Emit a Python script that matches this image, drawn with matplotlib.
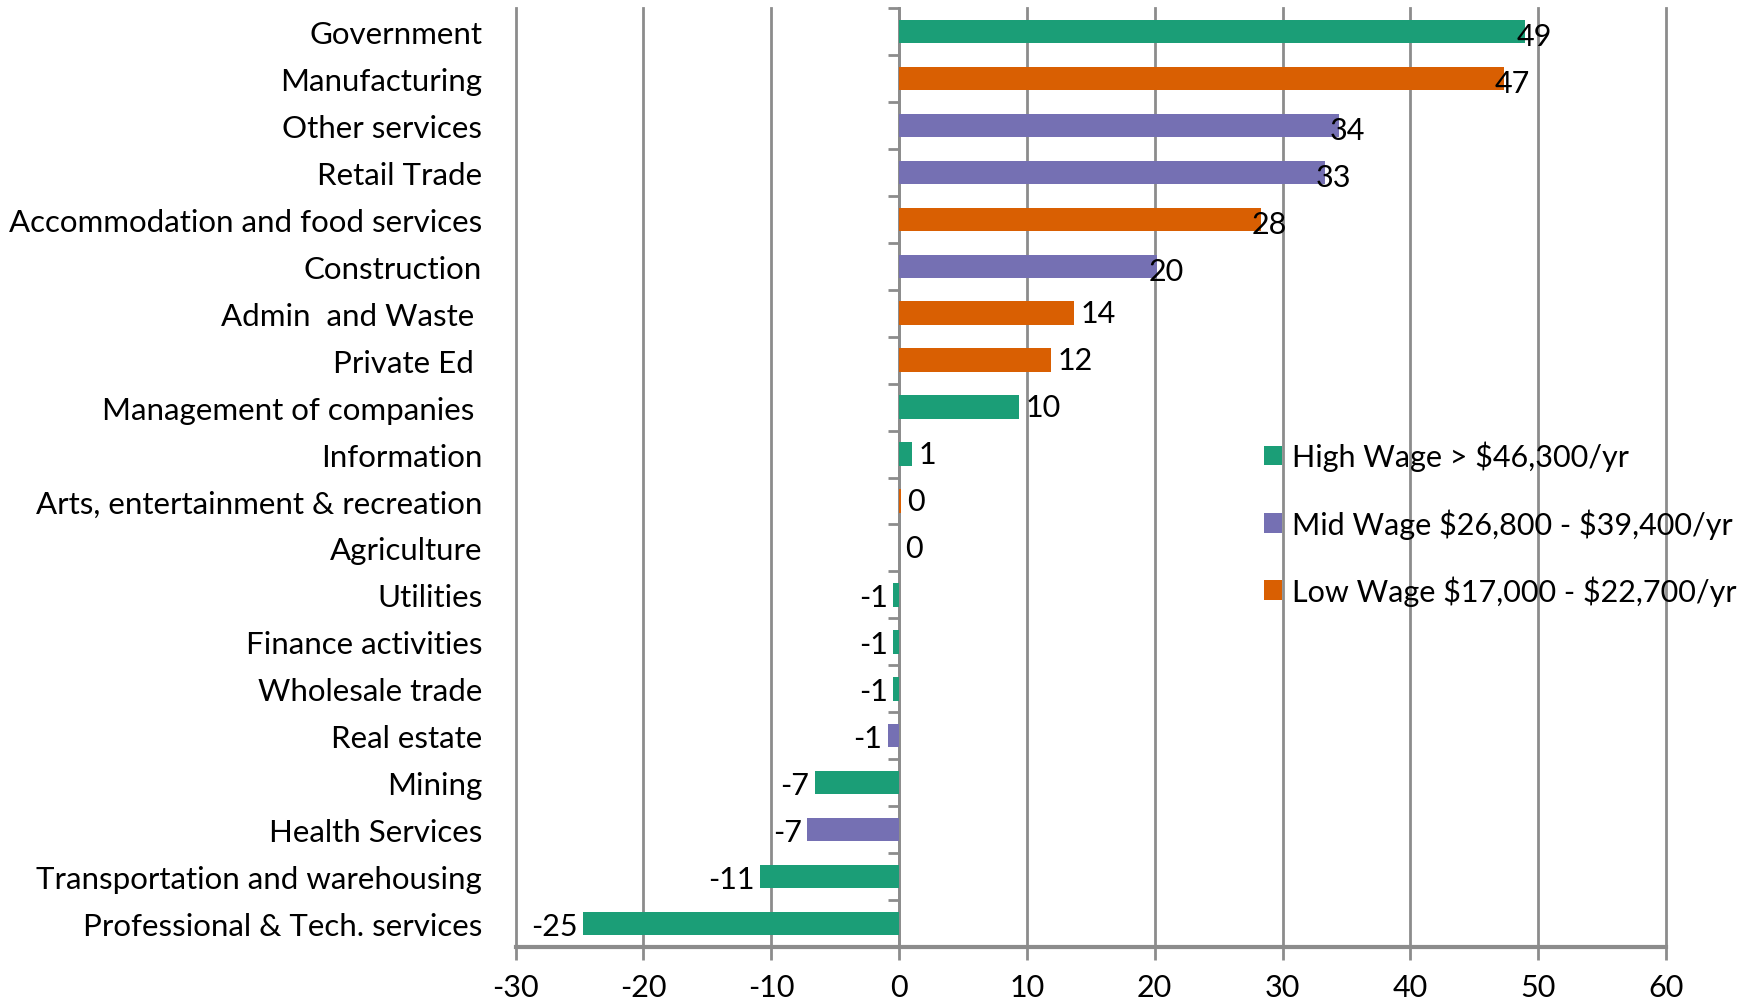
import matplotlib
matplotlib.use("Agg")
import matplotlib.pyplot as plt
import numpy as np

categories = ["Government", "Manufacturing", "Other services", "Retail Trade",
              "Accommodation and food services", "Construction", "Admin  and Waste ",
              "Private Ed ", "Management of companies ", "Information",
              "Arts, entertainment & recreation", "Agriculture", "Utilities",
              "Finance activities", "Wholesale trade", "Real estate", "Mining",
              "Health Services", "Transportation and warehousing",
              "Professional & Tech. services"]
values = [49.0, 47.3, 34.4, 33.3, 28.3, 20.2, 13.7, 11.9, 9.4, 1.05,
          0.15, 0.0, -0.5, -0.5, -0.5, -0.9, -6.6, -7.2, -10.9, -24.7]
labels = ["49", "47", "34", "33", "28", "20", "14", "12", "10", "1",
          "0", "0", "-1", "-1", "-1", "-1", "-7", "-7", "-11", "-25"]
wage_group = ["High", "Low", "Mid", "Mid", "Low", "Mid", "Low", "Low", "High", "High",
              "Low", "High", "High", "High", "High", "Mid", "High", "Mid", "High", "High"]
group_names = ["High", "Mid", "Low"]
group_labels = ["High Wage > \\$46,300/yr", "Mid Wage \\$26,800 - \\$39,400/yr",
                "Low Wage \\$17,000 - \\$22,700/yr"]
group_colors = {"High": "#1b9e77", "Mid": "#7570b3", "Low": "#d95f02"}
x_ticks = [-30, -20, -10, 0, 10, 20, 30, 40, 50, 60]

plt.rcParams['font.family'] = ['Lato', 'DejaVu Sans']
FS = 22.5

fig = plt.figure(figsize=(17.5, 10.03), dpi=100)
ax = fig.add_axes([0.2946, 0.0548, 0.6574, 0.9362])

y = np.arange(len(categories))
grid_c = "#8c8c8c"
for g, lab in zip(group_names, group_labels):
    idx = [i for i, w in enumerate(wage_group) if w == g]
    ax.barh(y[idx], [values[i] for i in idx], height=0.5, color=group_colors[g],
            label=lab, zorder=3)

for i, (v, t) in enumerate(zip(values, labels)):
    if v >= 15:
        ax.text(v + 0.7, y[i] + 0.1, t, ha='center', va='center', fontsize=22, zorder=4)
    elif v >= 0:
        ax.text(v + 0.5, y[i] + 0.0, t, ha='left', va='center', fontsize=22, zorder=4)
    else:
        ax.text(v - 0.4, y[i] + 0.05, t, ha='right', va='center', fontsize=22, zorder=4)

ax.set_xlim(-30, 60)
ax.set_ylim(len(categories) - 0.5, -0.5)
ax.set_xticks(x_ticks)
ax.set_xticklabels([str(t) for t in x_ticks], fontsize=22)
ax.set_yticks(y)
ax.set_yticklabels(categories, fontsize=FS)
ax.tick_params(axis='y', length=0, pad=24)
ax.tick_params(axis='x', length=9, width=2, color=grid_c, pad=10)
ax.grid(axis='x', color=grid_c, linewidth=2, zorder=1)
for gl in ax.get_xgridlines():
    gl.set_clip_on(False)
for s in ['top', 'right', 'left']:
    ax.spines[s].set_visible(False)
ax.spines['bottom'].set_color(grid_c)
ax.spines['bottom'].set_linewidth(3)

sec = ax.secondary_yaxis(1/3)
sec.set_yticks(np.arange(-0.5, len(categories), 1.0))
sec.set_yticklabels([])
sec.tick_params(axis='y', length=8, width=2, color=grid_c, direction='out')
sec.spines['left'].set_color(grid_c)
sec.spines['left'].set_linewidth(2)

leg = ax.legend(loc='upper left', bbox_to_anchor=(0.64, 0.552), frameon=False,
                fontsize=22, handlelength=0.6, handleheight=0.6, handletextpad=0.3,
                labelspacing=1.2, borderaxespad=0)

fig.savefig("out.png", dpi=100)
